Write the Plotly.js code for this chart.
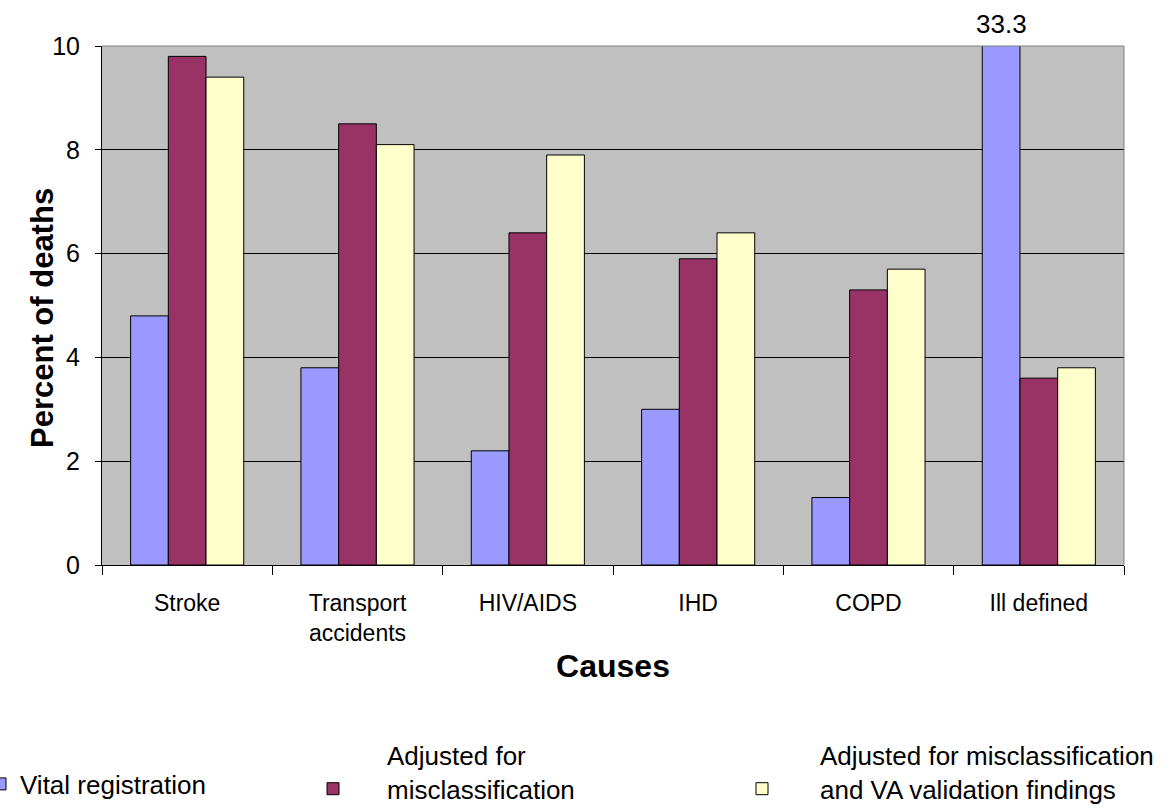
<!DOCTYPE html>
<html>
<head>
<meta charset="utf-8">
<script src="https://cdn.plot.ly/plotly-3.0.1.min.js"></script>
<style>
  html, body { margin: 0; padding: 0; background: #ffffff; }
  #chart { width: 1172px; height: 808px; }
</style>
</head>
<body>
<div id="chart"></div>
<script>
// ---- Data ----
const categories = ["Stroke", "Transport<br>accidents", "HIV/AIDS", "IHD", "COPD", "Ill defined"];
const vitalRegistration = [4.8, 3.8, 2.2, 3.0, 1.3, 33.3];
const adjustedMisclass = [9.8, 8.5, 6.4, 5.9, 5.3, 3.6];
const adjustedMisclassVA = [9.4, 8.1, 7.9, 6.4, 5.7, 3.8];
const seriesNames = [
  "Vital registration",
  "Adjusted for<br>misclassification",
  "Adjusted for misclassification<br>and VA validation findings"
];
const yTicks = [0, 2, 4, 6, 8, 10];
const xTitle = "Causes";
const yTitle = "Percent of deaths";

// ---- Styling ----
const FONT = "Liberation Sans, Arial, Helvetica, sans-serif";
const W = 1172, H = 808;
const margin = { l: 102, r: 48, t: 46, b: 243, autoexpand: false };
const plotW = W - margin.l - margin.r;
const plotH = H - margin.t - margin.b;
const bargap = 0.336;
const yMax = 10;

// pixel position (from figure top-left) -> paper coordinates
const px = v => (v - margin.l) / plotW;
const py = v => (H - margin.b - v) / plotH;

const barLine = { color: "#000000", width: 1 };
const traces = [
  { name: seriesNames[0], y: vitalRegistration, color: "#9999FF", legend: "legend" },
  { name: seriesNames[1], y: adjustedMisclass, color: "#993366", legend: "legend2" },
  { name: seriesNames[2], y: adjustedMisclassVA, color: "#FFFFCC", legend: "legend3" }
].map(s => ({
  type: "bar",
  x: categories,
  y: s.y,
  name: s.name,
  legend: s.legend,
  marker: { color: s.color, line: barLine },
  hoverinfo: "x+y+name"
}));

// the clipped value of the tallest bar is written above the plot
const barW = plotW / categories.length * (1 - bargap) / 3;
const clippedIdx = vitalRegistration.findIndex(v => v > yMax);

const legendBase = {
  orientation: "v",
  xref: "paper",
  yref: "paper",
  xanchor: "left",
  yanchor: "middle",
  bgcolor: "rgba(0,0,0,0)",
  borderwidth: 0,
  font: { family: FONT, size: 26, color: "#000000" },
  valign: "middle"
};

const annotations = [{
  text: yTitle,
  xref: "paper",
  yref: "paper",
  x: px(42),
  y: py(318),
  xanchor: "center",
  yanchor: "middle",
  textangle: -90,
  showarrow: false,
  font: { family: FONT, size: 31, color: "#000000", weight: "bold" }
}];
if (clippedIdx >= 0) {
  annotations.push({
    x: categories[clippedIdx],
    y: yMax,
    xref: "x",
    yref: "y",
    xshift: -barW,
    yshift: 5,
    yanchor: "bottom",
    xanchor: "center",
    showarrow: false,
    text: String(vitalRegistration[clippedIdx]),
    font: { family: FONT, size: 26, color: "#000000" }
  });
}

const layout = {
  width: W,
  height: H,
  margin: margin,
  paper_bgcolor: "#ffffff",
  plot_bgcolor: "#C0C0C0",
  font: { family: FONT, color: "#000000" },
  barmode: "group",
  bargap: bargap,
  bargroupgap: 0,
  xaxis: {
    type: "category",
    tickson: "boundaries",
    ticks: "outside",
    ticklen: 9,
    tickcolor: "#000000",
    tickwidth: 1,
    tickangle: 0,
    automargin: false,
    showline: true,
    linecolor: "#000000",
    linewidth: 1,
    showgrid: false,
    tickfont: { family: FONT, size: 23, color: "#000000" },
    ticklabelstandoff: 17,
    title: { text: xTitle, font: { family: FONT, size: 32, color: "#000000", weight: "bold" }, standoff: 10 },
    fixedrange: true
  },
  yaxis: {
    range: [0, yMax],
    tickvals: yTicks,
    ticktext: yTicks.map(String),
    ticks: "outside",
    ticklen: 6,
    tickcolor: "#000000",
    tickwidth: 1,
    automargin: false,
    showline: true,
    linecolor: "#000000",
    linewidth: 1,
    showgrid: true,
    gridcolor: "#000000",
    gridwidth: 1,
    zeroline: false,
    tickfont: { family: FONT, size: 25, color: "#000000" },
    ticklabelstandoff: 10,
    fixedrange: true
  },
  shapes: [
    { type: "line", xref: "paper", yref: "paper", x0: 0, x1: 1, y0: 1, y1: 1, line: { color: "#808080", width: 1 } },
    { type: "line", xref: "paper", yref: "paper", x0: 1, x1: 1, y0: 0, y1: 1, line: { color: "#808080", width: 1 } }
  ],
  annotations: annotations,
  showlegend: true,
  legend: Object.assign({}, legendBase, { x: px(-20), y: py(784), itemwidth: 30 }),
  legend2: Object.assign({}, legendBase, { x: px(279), y: py(772), itemwidth: 98, valign: "bottom" }),
  legend3: Object.assign({}, legendBase, { x: px(704), y: py(772), itemwidth: 106, valign: "bottom" })
};

Plotly.newPlot("chart", traces, layout, { displayModeBar: false, responsive: false });
</script>
</body>
</html>
